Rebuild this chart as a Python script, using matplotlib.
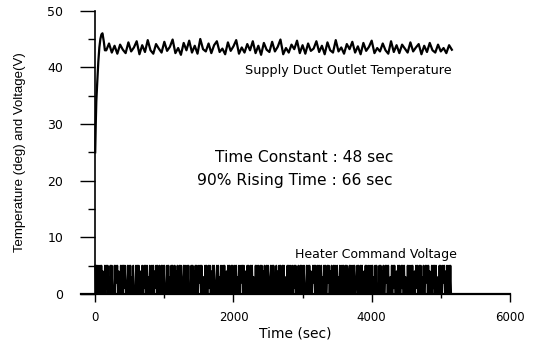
import numpy as np
import matplotlib
matplotlib.use("Agg")
import matplotlib.pyplot as plt
from matplotlib.ticker import MultipleLocator

plt.rcParams["path.simplify"] = False

# --- data ---
# initial rise of the supply duct outlet temperature (sec, deg)
rise_time = [0, 8, 16, 30, 45, 60, 75, 90, 105, 125, 140]
rise_temp = [25.0, 30.0, 34.0, 37.5, 41.0, 43.5, 45.0, 45.8, 46.0, 44.5, 43.0]

# steady-state temperature, sampled every 40 sec from 160 sec
steady_step = 40
steady_temp = [
    43.0, 44.2, 42.6, 43.8, 42.4, 44.0, 43.1, 42.5, 44.4, 42.8, 43.5, 44.6, 42.3, 43.9, 42.7, 44.8, 43.0, 42.4, 44.1, 43.3,
    42.6, 44.5, 42.9, 43.6, 44.9, 42.5, 43.4, 42.2, 44.3, 43.0, 44.7, 42.6, 43.8, 42.4, 45.0, 43.2, 42.8, 44.2, 42.5, 43.9,
    44.6, 42.7, 43.3, 42.3, 44.4, 42.9, 43.7, 44.8, 42.4, 43.5, 42.6, 44.1, 43.0, 44.6, 42.5, 43.8, 42.2, 44.3, 43.1, 42.7,
    44.5, 42.8, 43.6, 44.9, 42.3, 43.4, 42.6, 44.0, 43.2, 44.7, 42.5, 43.9, 42.4, 44.2, 42.9, 43.3, 44.6, 42.7, 43.8, 42.3,
    44.4, 43.0, 42.6, 44.8, 42.8, 43.5, 42.4, 44.1, 43.2, 44.5, 42.6, 43.7, 42.3, 44.3, 42.9, 43.6, 44.7, 42.5, 43.4, 42.8,
    44.2, 43.0, 42.4, 44.6, 42.7, 43.9, 42.5, 44.0, 43.3, 42.6, 44.4, 42.8, 43.5, 44.1, 42.3, 43.8, 42.7, 44.3, 43.0, 42.6,
    44.0, 42.8, 43.4, 42.5, 43.9, 43.1,
]

# heater command voltage, sampled every 10 sec from 0 sec
volt_step = 10
heater_volt = [
    5, 0, 5, 0, 5, 1, 0, 5, 0, 5, 0, 4, 0, 0, 5, 0, 5, 1, 5, 0, 3, 0, 5, 0, 5, 0, 1, 0, 5, 0, 5, 2, 5, 0, 4, 0, 0, 5, 0, 5,
    0, 5, 1, 5, 0, 0, 2, 5, 0, 5, 0, 5, 0, 3, 0, 5, 0, 1, 0, 5, 0, 5, 0, 5, 2, 0, 4, 0, 5, 0, 0, 5, 1, 5, 0, 5, 0, 3, 0, 5,
    0, 0, 5, 0, 5, 0, 4, 1, 5, 0, 5, 0, 0, 5, 0, 2, 5, 0, 5, 0, 5, 1, 0, 0, 5, 0, 5, 0, 3, 0, 5, 0, 5, 1, 0, 5, 0, 4, 0, 5,
    1, 0, 5, 0, 5, 0, 0, 3, 5, 0, 5, 2, 0, 5, 0, 5, 0, 0, 1, 5, 0, 5, 0, 4, 0, 5, 0, 5, 0, 0, 5, 2, 5, 0, 5, 1, 0, 3, 0, 5,
    0, 5, 0, 0, 5, 1, 5, 0, 4, 0, 5, 0, 5, 0, 0, 2, 5, 0, 5, 0, 3, 0, 5, 1, 0, 5, 0, 5, 0, 0, 4, 0, 5, 0, 5, 2, 0, 5, 0, 5,
    0, 1, 5, 0, 5, 0, 3, 0, 5, 0, 0, 5, 2, 5, 0, 5, 0, 4, 0, 0, 5, 0, 5, 1, 0, 5, 0, 5, 0, 3, 0, 0, 5, 0, 5, 0, 5, 2, 0, 5,
    0, 5, 0, 4, 0, 5, 1, 0, 5, 0, 5, 0, 0, 3, 5, 0, 5, 0, 5, 2, 0, 0, 5, 0, 4, 0, 5, 0, 5, 1, 0, 5, 0, 5, 0, 0, 3, 0, 5, 0,
    5, 0, 5, 2, 0, 5, 0, 0, 5, 1, 5, 0, 4, 0, 5, 0, 0, 5, 0, 5, 3, 0, 5, 0, 0, 1, 5, 0, 5, 0, 5, 0, 4, 0, 0, 5, 2, 5, 0, 5,
    0, 0, 5, 0, 5, 1, 0, 5, 0, 3, 0, 5, 0, 5, 0, 0, 5, 2, 5, 0, 4, 0, 5, 0, 0, 5, 0, 5, 1, 0, 5, 0, 3, 0, 5, 0, 0, 5, 0, 5,
    2, 0, 5, 0, 5, 0, 0, 4, 5, 0, 5, 1, 0, 5, 0, 5, 0, 0, 3, 5, 0, 5, 2, 0, 5, 0, 5, 0, 0, 4, 0, 5, 0, 5, 1, 0, 5, 0, 0, 5,
    0, 5, 0, 3, 0, 5, 0, 5, 1, 0, 0, 5, 0, 5, 0, 4, 0, 5, 0, 0, 5, 2, 5, 0, 5, 0, 0, 3, 0, 5, 0, 5, 1, 5, 0, 0, 4, 0, 5, 0,
    5, 0, 0, 5, 1, 5, 0, 5, 0, 3, 0, 0, 5, 0, 5, 2, 0, 5, 0, 5, 0, 0, 4, 0, 5, 1, 5, 0, 0, 5, 0, 5, 0, 3, 0, 5, 0, 0, 5, 2,
    5, 0, 5, 0, 4, 0, 0, 5, 0, 5, 1, 5, 0, 5, 0, 0, 3, 0, 5, 0, 5, 0, 0, 5, 2, 5, 0, 4, 0, 5, 0, 1, 5, 0, 5, 0,
]

x_ticks = [0, 2000, 4000, 6000]
y_ticks = [0, 10, 20, 30, 40, 50]

steady_time = 160 + steady_step * np.arange(len(steady_temp))
temp_time = np.concatenate([rise_time, steady_time])
temp = np.concatenate([rise_temp, steady_temp])
volt_time = volt_step * np.arange(len(heater_volt))

# --- figure ---
fig = plt.figure(figsize=(5.33, 3.43), dpi=100)
ax = fig.add_axes([0.1527, 0.143, 0.804, 0.826])

ax.plot(temp_time, temp, color="black", lw=1.6)
ax.plot(volt_time, heater_volt, color="black", lw=1.3)

ax.set_xlim(-200, 6000)
ax.set_ylim(0, 50)
ax.spines["left"].set_position(("data", 0))
ax.spines["top"].set_visible(False)
ax.spines["right"].set_visible(False)
ax.spines["left"].set_linewidth(1.2)
ax.spines["bottom"].set_linewidth(1.6)

ax.set_xticks(x_ticks)
ax.set_yticks(y_ticks)
ax.xaxis.set_minor_locator(MultipleLocator(1000))
ax.yaxis.set_minor_locator(MultipleLocator(5))
ax.tick_params(axis="y", which="major", length=11, width=1, pad=12,
               labelsize=9)
ax.tick_params(axis="y", which="minor", length=5, width=1)
ax.tick_params(axis="x", which="major", length=6, width=1, pad=6,
               labelsize=8.5)
ax.tick_params(axis="x", which="minor", length=3, width=1)
for lbl in ax.get_yticklabels():
    lbl.set_family("Liberation Sans Narrow")

ax.set_xlabel("Time (sec)", fontsize=10, labelpad=2)
ax.set_ylabel("Temperature (deg) and Voltage(V)", fontsize=9.5,
              family="Liberation Sans")
ax.yaxis.set_label_coords(-0.13, 0.5)

ax.text(5150, 39.4, "Supply Duct Outlet Temperature", fontsize=9.2,
        ha="right", va="center")
ax.text(5230, 7.0, "Heater Command Voltage", fontsize=9.0,
        ha="right", va="center")
ax.text(4320, 24.0, "Time Constant : 48 sec", fontsize=11.2,
        ha="right", va="center")
ax.text(4300, 20.0, "90% Rising Time : 66 sec", fontsize=11.2,
        ha="right", va="center")

fig.savefig("out.png", dpi=100)
